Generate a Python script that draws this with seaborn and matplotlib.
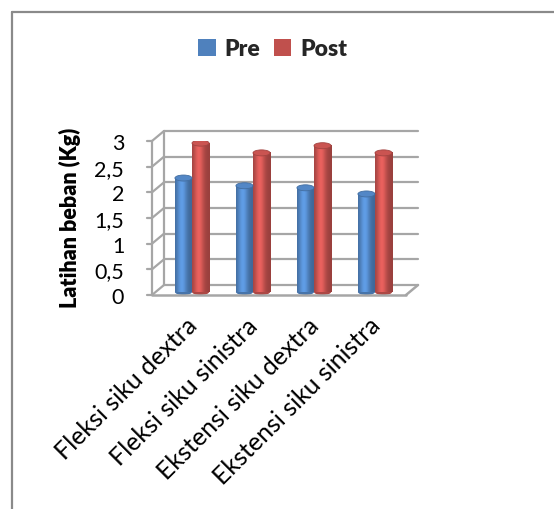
import numpy as np
import pandas as pd
import matplotlib
matplotlib.use("Agg")
import matplotlib.pyplot as plt
import matplotlib.transforms as mtransforms
from matplotlib.patches import Patch, Ellipse
from matplotlib.lines import Line2D
from matplotlib.colors import to_rgb
from matplotlib.text import Text
import seaborn as sns

categories = ["Fleksi siku dextra", "Fleksi siku sinistra", "Ekstensi siku dextra", "Ekstensi siku sinistra"]
pre = [2.22, 2.07, 2.03, 1.91]
post = [2.90, 2.71, 2.85, 2.71]
series = ["Pre", "Post"]
yticks = [0, 0.5, 1, 1.5, 2, 2.5, 3]
ytick_labels = ["0", "0,5", "1", "1,5", "2", "2,5", "3"]
colors = {"Pre": "#4F81BD", "Post": "#C0504D"}

df = pd.DataFrame({
    "Kategori": categories * 2,
    "Nilai": pre + post,
    "Seri": ["Pre"] * len(categories) + ["Post"] * len(categories),
})

sns.set_theme(style="white")
plt.rcParams["font.family"] = ["Lato", "DejaVu Sans"]

W, H = 554, 510
fig = plt.figure(figsize=(W / 100, H / 100), dpi=100)
fig.patch.set_facecolor("white")

# outer chart border (left and top visible)
fig.add_artist(Line2D([12 / W, 12 / W], [0, 1 - 13 / H], transform=fig.transFigure,
                      color="#8a8a8a", lw=1.6))
fig.add_artist(Line2D([12 / W, 1], [1 - 13 / H, 1 - 13 / H], transform=fig.transFigure,
                      color="#8a8a8a", lw=1.6))

ax_left, ax_right = 152, 406
ax_top, ax_bot = 142, 296
ax = fig.add_axes([ax_left / W, 1 - ax_bot / H, (ax_right - ax_left) / W, (ax_bot - ax_top) / H])
ax.set_facecolor("none")

sns.barplot(data=df, x="Kategori", y="Nilai", hue="Seri", hue_order=series,
            palette=colors, width=0.56, gap=0, ax=ax, legend=False,
            edgecolor="none", saturation=1, zorder=3)

px_per_unit = 61.0
x0 = -(192 - ax_left) / px_per_unit
xlim = (x0, x0 + (ax_right - ax_left) / px_per_unit)
ylim = (0, 3)
ax.set_xlim(*xlim)
ax.set_ylim(*ylim)

for s in ax.spines.values():
    s.set_visible(False)

# pseudo-3D walls
dx, dy = 12 / 100, 10 / 100  # inches
off = mtransforms.ScaledTranslation(dx, dy, fig.dpi_scale_trans)
blend = mtransforms.blended_transform_factory(ax.transAxes, ax.transData)
gcol = "#a6a6a6"
for v in yticks:
    ax.plot([0, 1], [v, v], transform=blend + off, color=gcol, lw=1.6, zorder=1, clip_on=False)
    ax.plot([-0.018, 0], [v, v], transform=blend, color=gcol, lw=1.6, clip_on=False, zorder=1)
fig.canvas.draw()
for v in yticks:
    p1 = blend.transform((0, v))
    p2 = (blend + off).transform((0, v))
    fig.add_artist(Line2D([p1[0] / fig.bbox.width, p2[0] / fig.bbox.width],
                          [p1[1] / fig.bbox.height, p2[1] / fig.bbox.height],
                          transform=fig.transFigure, color=gcol, lw=1.6, zorder=1))
ax.plot([0, 0], [0, 3], transform=blend + off, color=gcol, lw=1.6, zorder=1, clip_on=False)
ax.plot([0, 0], [0, 3], transform=blend, color=gcol, lw=1.6, zorder=2, clip_on=False)
ax.plot([0, 1], [0, 0], transform=blend, color=gcol, lw=1.8, zorder=4, clip_on=False)
pr1 = blend.transform((1, 0))
pr2 = (blend + off).transform((1, 0))
fig.add_artist(Line2D([pr1[0] / fig.bbox.width, pr2[0] / fig.bbox.width],
                      [pr1[1] / fig.bbox.height, pr2[1] / fig.bbox.height],
                      transform=fig.transFigure, color=gcol, lw=1.8, zorder=4))

# cylinder look for each bar (derived from seaborn's bar patches)
up = mtransforms.ScaledTranslation(0, 3 / 100, fig.dpi_scale_trans)
ell_h = 6 / ((ax_bot - ax_top) / 3)
t = np.linspace(0, 1, 64)
shade = 0.8 + 0.42 * np.exp(-((t - 0.38) / 0.28) ** 2)
bars = [p for p in ax.patches]
for p in bars:
    base = np.array(to_rgb(p.get_facecolor()))
    x, w, h = p.get_x(), p.get_width(), p.get_height()
    if h <= 0:
        continue
    rgb = np.clip(base[None, :] * shade[:, None], 0, 1)
    img = np.repeat(rgb[None, :, :], 2, axis=0)
    ax.imshow(img, extent=[x, x + w, 0, h], aspect="auto", zorder=3.2,
              transform=ax.transData + up, interpolation="bilinear")
    ax.add_patch(Ellipse((x + w / 2, 0), w, ell_h, facecolor=tuple(base * 0.9),
                         edgecolor="none", zorder=3.1, transform=ax.transData + up))
    ax.add_patch(Ellipse((x + w / 2, h), w, ell_h, facecolor=tuple(np.clip(base * 1.05, 0, 1)),
                         edgecolor=tuple(base * 0.85), lw=0.6, zorder=3.3,
                         transform=ax.transData + up))
    p.set_alpha(0)
ax.set_xlim(*xlim)
ax.set_ylim(*ylim)

ax.set_yticks(yticks)
ax.set_yticklabels(ytick_labels, fontsize=15.5, color="black")
ax.tick_params(axis="y", length=0, pad=20)
ax.set_xticks(range(len(categories)))
ax.set_xticklabels(categories, rotation=45, ha="right", rotation_mode="anchor",
                   fontsize=15.5, color="black")
ax.tick_params(axis="x", length=0, pad=13)

# scale x label font so that "Fleksi siku dextra" is about 190 px long
fig.canvas.draw()
r = fig.canvas.get_renderer()
tt = Text(0, 0, categories[0], fontsize=15.5, figure=fig)
wpx = tt.get_window_extent(renderer=r).width
fs = 15.5 * 190 / wpx
for lab in ax.get_xticklabels():
    lab.set_fontsize(fs)
    lab.set_transform(lab.get_transform() + mtransforms.ScaledTranslation(-7 / 100, 0, fig.dpi_scale_trans))

ax.set_xlabel("")
ax.set_ylabel("Latihan beban (Kg)", fontsize=15.5, fontweight="heavy", color="black")
ax.yaxis.set_label_coords((81 - ax_left) / (ax_right - ax_left), (ax_bot - 218) / (ax_bot - ax_top))
ax.grid(False)

handles = [Patch(facecolor=colors[s], edgecolor="none", label=s) for s in series]
fig.legend(handles=handles, loc="center", bbox_to_anchor=(273 / W, 1 - 50 / H), ncol=2,
           frameon=False, prop={"weight": "heavy", "size": 16.5},
           handlelength=0.75, handleheight=0.75, handletextpad=0.4, columnspacing=0.6)

fig.savefig("out.png", dpi=100, facecolor="white")
